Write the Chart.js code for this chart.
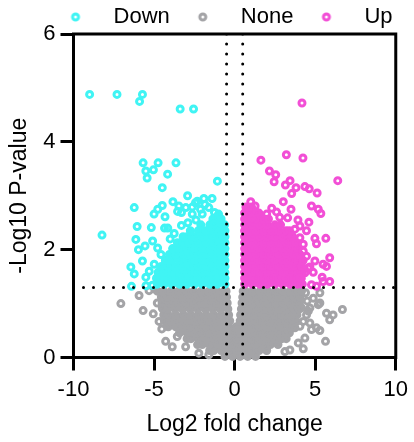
<!DOCTYPE html>
<html>
<head>
<meta charset="utf-8">
<script src="https://cdn.jsdelivr.net/npm/chart.js@4.4.1/dist/chart.umd.min.js"></script>
<style>
  html, body { margin: 0; padding: 0; background: #fff; }
</style>
</head>
<body>
<canvas id="volcano" width="414" height="442"></canvas>
<script>
const seriesNames = ['Down', 'None', 'Up'];
const seriesColors = ['#40F4F4', '#A4A4A7', '#F24FD6'];
const xTicks = [-10, -5, 0, 5, 10];
const yTicks = [0, 2, 4, 6];
const pCut = 1.3;
const fcCut = [-0.5, 0.5];

// dense parts of each cloud, one band per row: [y, [x, x, ...]]
const downCore = [
  [1.36, [-4.8, -4.36, -3.89, -3.42, -2.95, -2.48, -2.01, -1.54, -1.07, -0.6]],
  [1.47, [-4.85, -4.6, -4.13, -3.66, -3.19, -2.72, -2.25, -1.78, -1.31, -0.84, -0.6]],
  [1.58, [-4.75, -4.36, -3.89, -3.42, -2.95, -2.48, -2.01, -1.54, -1.07, -0.6]],
  [1.69, [-4.55, -4.13, -3.66, -3.19, -2.72, -2.25, -1.78, -1.31, -0.84, -0.6]],
  [1.8, [-4.3, -3.89, -3.42, -2.95, -2.48, -2.01, -1.54, -1.07, -0.6]],
  [1.91, [-4.05, -3.66, -3.19, -2.72, -2.25, -1.78, -1.31, -0.84, -0.6]],
  [2.02, [-3.85, -3.42, -2.95, -2.48, -2.01, -1.54, -1.07, -0.6]],
  [2.13, [-3.55, -3.19, -2.72, -2.25, -1.78, -1.31, -0.84, -0.6]],
  [2.24, [-3.2, -2.95, -2.48, -2.01, -1.54, -1.07, -0.6]],
  [2.35, [-2.75, -2.25, -1.78, -1.31, -0.84, -0.6]],
  [2.46, [-2.1, -1.54, -1.07, -0.62]],
  [2.57, [-1.35, -0.84]],
  [2.66, [-1.0]]
];
const noneCore = [
  [0.02, [-0.6, -0.13, 0.34, 0.81, 1.3]],
  [0.13, [-1.55, -1.3, -0.83, -0.36, 0.11, 0.58, 1.05, 1.52, 1.99]],
  [0.24, [-2.3, -2.01, -1.54, -1.07, -0.6, -0.13, 0.34, 0.81, 1.28, 1.75, 2.22, 2.69]],
  [0.35, [-2.95, -2.71, -2.24, -1.77, -1.3, -0.83, -0.36, 0.11, 0.58, 1.05, 1.52, 1.99, 2.46, 2.93, 3.2]],
  [0.46, [-3.42, -2.95, -2.48, -2.01, -1.54, -1.07, -0.6, -0.13, 0.34, 0.81, 1.28, 1.75, 2.22, 2.69, 3.16, 3.4]],
  [0.57, [-4.12, -3.65, -3.18, -2.71, -2.24, -1.77, -1.3, -0.83, -0.36, 0.11, 0.58, 1.05, 1.52, 1.99, 2.46, 2.93, 3.4, 3.62]],
  [0.68, [-4.36, -3.89, -3.42, -2.95, -2.48, -2.01, -1.54, -1.07, -0.6, -0.3, 0.34, 0.81, 1.28, 1.75, 2.22, 2.69, 3.16, 3.63, 3.8]],
  [0.79, [-4.4, -4.12, -3.65, -3.18, -2.71, -2.24, -1.77, -1.3, -0.83, -0.37, 0.37, 0.58, 1.05, 1.52, 1.99, 2.46, 2.93, 3.4, 3.87]],
  [0.9, [-4.45, -4.17, -3.7, -3.23, -2.76, -2.29, -1.82, -1.35, -0.88, -0.42, 0.42, 0.88, 1.35, 1.82, 2.29, 2.76, 3.23, 3.7, 4.0]],
  [1.01, [-4.5, -4.41, -3.94, -3.47, -3.0, -2.53, -2.06, -1.59, -1.12, -0.66, -0.46, 0.46, 0.66, 1.12, 1.59, 2.06, 2.53, 3.0, 3.47, 3.94, 4.02]],
  [1.12, [-4.55, -4.17, -3.7, -3.23, -2.76, -2.29, -1.82, -1.35, -0.88, -0.5, 0.5, 0.88, 1.35, 1.82, 2.29, 2.76, 3.23, 3.7, 4.05]],
  [1.23, [-4.8, -4.41, -3.94, -3.47, -3.0, -2.53, -2.06, -1.59, -1.12, -0.66, -0.53, 0.53, 0.66, 1.12, 1.59, 2.06, 2.53, 3.0, 3.47, 3.94, 4.15]]
];
const upCore = [
  [1.36, [0.62, 1.09, 1.56, 2.03, 2.5, 2.97, 3.44, 3.91, 4.2]],
  [1.47, [0.62, 0.85, 1.32, 1.79, 2.26, 2.73, 3.2, 3.67, 4.14]],
  [1.58, [0.62, 1.09, 1.56, 2.03, 2.5, 2.97, 3.44, 3.91, 4.2]],
  [1.69, [0.62, 0.85, 1.32, 1.79, 2.26, 2.73, 3.2, 3.67, 4.14]],
  [1.8, [0.62, 1.09, 1.56, 2.03, 2.5, 2.97, 3.44, 3.91, 4.25]],
  [1.91, [0.62, 0.85, 1.32, 1.79, 2.26, 2.73, 3.2, 3.67, 4.05]],
  [2.02, [0.62, 1.09, 1.56, 2.03, 2.5, 2.97, 3.44, 3.9]],
  [2.13, [0.62, 0.85, 1.32, 1.79, 2.26, 2.73, 3.2, 3.67, 3.8]],
  [2.24, [0.62, 1.09, 1.56, 2.03, 2.5, 2.97, 3.44, 3.6]],
  [2.35, [0.62, 0.85, 1.32, 1.79, 2.26, 2.73, 3.2, 3.4]],
  [2.46, [0.62, 1.09, 1.56, 2.03, 2.5, 2.85]],
  [2.57, [0.62, 0.85, 1.32, 1.79, 2.1]],
  [2.68, [0.62, 1.09, 1.5]],
  [2.79, [0.7, 1.05]]
];

// scattered genes: [log2 fold change, -log10 p]
const downSpread = [
  [-9.0, 4.88], [-7.3, 4.88], [-5.72, 4.88], [-5.9, 4.75], [-3.38, 4.61], [-2.55, 4.61],
  [-5.68, 3.61], [-4.75, 3.61], [-3.64, 3.61], [-5.51, 3.46], [-5.04, 3.48], [-4.16, 3.4],
  [-5.43, 3.33], [-1.07, 3.27], [-4.49, 3.15], [-2.92, 3.0], [-2.32, 2.9], [-1.91, 2.95],
  [-1.4, 2.95], [-1.85, 2.84], [-2.43, 2.87], [-2.63, 2.79], [-2.12, 2.75], [-1.6, 2.78],
  [-1.25, 2.69], [-1.19, 2.59], [-2.01, 2.66], [-2.63, 2.66], [-3.03, 2.78], [-3.3, 2.69],
  [-1.3, 2.47], [-3.83, 2.89], [-3.46, 2.81], [-3.54, 2.71], [-6.23, 2.78], [-5.0, 2.66],
  [-4.77, 2.75], [-4.49, 2.82], [-4.32, 2.61], [-0.88, 2.5], [-6.05, 2.43], [-5.17, 2.41],
  [-4.35, 2.4], [-4.15, 2.4], [-8.23, 2.27], [-6.13, 2.19], [-5.97, 2.0], [-5.56, 2.07],
  [-5.72, 1.79], [-6.44, 1.68], [-6.23, 1.55], [-5.51, 1.49], [-6.4, 1.32], [-5.5, 1.33],
  [-5.1, 1.34], [-5.09, 2.16], [-4.78, 2.03], [-4.57, 1.91], [-5.3, 1.6], [-4.99, 1.73],
  [-3.75, 2.3], [-3.3, 2.45], [-2.9, 2.5], [-4.0, 2.2], [-2.4, 2.55]
];
const noneSpread = [
  [-7.06, 1.0], [-5.93, 1.15], [-5.31, 1.24], [-5.68, 0.87], [-5.05, 0.81], [-4.8, 1.01],
  [-4.52, 0.53], [-3.56, 0.39], [-4.69, 0.67], [-4.49, 0.92], [-4.28, 0.3], [-3.87, 0.2],
  [-3.04, 0.2], [-2.22, 0.08], [-1.6, 0.05],
  [5.29, 1.2], [5.29, 1.01], [5.7, 0.82], [5.9, 0.7], [6.11, 0.79], [6.69, 0.89],
  [5.64, 0.3], [5.08, 0.55], [5.29, 0.5], [4.77, 0.52], [4.26, 0.16], [4.67, 0.92],
  [4.57, 0.86], [4.15, 0.92], [4.46, 0.79], [4.26, 0.67], [4.67, 0.64], [4.05, 0.58],
  [3.74, 0.55], [4.36, 0.36], [3.95, 0.27], [3.12, 0.11], [3.43, 0.14], [4.88, 1.1],
  [5.19, 0.98], [4.4, 1.2], [4.5, 1.05]
];
const upSpread = [
  [4.18, 4.72], [3.21, 3.76], [4.24, 3.7], [1.63, 3.66], [2.16, 3.46], [2.55, 3.39],
  [2.45, 3.26], [6.4, 3.28], [3.15, 3.2], [3.44, 3.28], [3.81, 3.15], [3.54, 3.04],
  [4.36, 3.17], [4.63, 3.13], [5.12, 3.05], [3.02, 2.89], [4.77, 2.81], [5.19, 2.75],
  [5.35, 2.67], [2.3, 2.77], [1.99, 2.66], [3.5, 2.75], [3.29, 2.59], [3.93, 2.55],
  [4.61, 2.51], [1.0, 2.89], [1.27, 2.81], [0.86, 2.78], [1.38, 2.69], [1.07, 2.59],
  [4.46, 2.35], [4.05, 2.44], [3.74, 2.38], [3.54, 2.25], [4.05, 2.22], [4.26, 2.1],
  [4.98, 2.21], [5.66, 2.21], [5.08, 2.11], [4.26, 1.97], [4.46, 1.88], [5.9, 1.85],
  [5.49, 1.73], [5.7, 1.69], [4.88, 1.58], [5.43, 1.49], [4.98, 1.79], [4.67, 1.68],
  [4.15, 1.69], [4.36, 1.57], [4.57, 1.66], [4.05, 1.48], [4.77, 1.35], [5.08, 1.32],
  [5.49, 1.41], [5.9, 1.41], [2.8, 2.6], [2.6, 2.7]
];

const fromRows = rows => rows.flatMap(([y, xs]) => xs.map(x => ({ x, y })));
const fromPairs = pairs => pairs.map(([x, y]) => ({ x, y }));

// hollow ring used for the legend markers
function ring(color) {
  const c = document.createElement('canvas');
  c.width = 12; c.height = 12;
  const g = c.getContext('2d');
  g.strokeStyle = color; g.lineWidth = 3;
  g.beginPath(); g.arc(6, 6, 3, 0, Math.PI * 2); g.stroke();
  return c;
}

function cloud(i, core, spread, order) {
  const nCore = fromRows(core).length;
  return {
    label: seriesNames[i],
    data: fromRows(core).concat(fromPairs(spread)),
    borderColor: seriesColors[i],
    backgroundColor: ctx => (ctx.dataIndex < nCore ? seriesColors[i] : 'rgba(0,0,0,0)'),
    pointRadius: 3,
    pointHoverRadius: 3,
    borderWidth: 3,
    order,
    clip: false
  };
}

function cutLine(points) {
  return {
    type: 'line',
    data: points,
    borderColor: '#000',
    borderWidth: 3,
    borderDash: [0, 10],
    borderCapStyle: 'round',
    pointRadius: 0,
    fill: false,
    order: 0
  };
}

const yTop = yTicks[yTicks.length - 1];

const legendGap = {
  id: 'legendGap',
  beforeLayout(chart) {
    const lg = chart.legend;
    if (lg && !lg._gapDone) {
      const fit = lg.fit;
      lg.fit = function () { fit.call(this); this.height = 34; };
      lg._gapDone = true;
    }
  }
};

const frame = {
  id: 'frame',
  afterDraw(chart) {
    const { ctx, chartArea: a } = chart;
    ctx.save();
    ctx.strokeStyle = '#000';
    ctx.lineWidth = 3;
    ctx.beginPath();
    ctx.moveTo(a.left - 1.5, a.top);
    ctx.lineTo(a.right, a.top);
    ctx.lineTo(a.right, a.bottom + 1.5);
    ctx.stroke();
    ctx.restore();
  }
};

Chart.defaults.font.family = "'Liberation Sans', Arial, sans-serif";
Chart.defaults.color = '#000';

const axisGrid = { display: true, drawOnChartArea: false, drawTicks: true, tickLength: 13, tickWidth: 3, tickColor: '#000', color: '#000', lineWidth: 3 };
const axisBorder = { display: true, color: '#000', width: 3 };

new Chart(document.getElementById('volcano'), {
  type: 'scatter',
  data: {
    datasets: [
      cloud(0, downCore, downSpread, 1),
      cloud(1, noneCore, noneSpread, 2),
      cloud(2, upCore, upSpread, 1),
      cutLine([{ x: xTicks[0], y: pCut }, { x: xTicks[xTicks.length - 1], y: pCut }]),
      cutLine([{ x: fcCut[0], y: yTop }, { x: fcCut[0], y: 0 }]),
      cutLine([{ x: fcCut[1], y: yTop }, { x: fcCut[1], y: 0 }])
    ]
  },
  options: {
    responsive: false,
    devicePixelRatio: 1,
    animation: false,
    events: [],
    layout: { padding: { left: 0, right: 15.5, top: 0, bottom: 0 } },
    plugins: {
      tooltip: { enabled: false },
      legend: {
        position: 'top',
        align: 'end',
        labels: {
          usePointStyle: true,
          pointStyleWidth: 54,
          padding: 6,
          color: '#000',
          font: { size: 22 },
          generateLabels(chart) {
            return Chart.defaults.plugins.legend.labels.generateLabels(chart)
              .filter(it => it.datasetIndex < 3)
              .sort((a, b) => a.datasetIndex - b.datasetIndex)
              .map(it => Object.assign(it, { pointStyle: ring(seriesColors[it.datasetIndex]) }));
          }
        }
      }
    },
    scales: {
      x: {
        type: 'linear',
        min: xTicks[0],
        max: xTicks[xTicks.length - 1],
        afterBuildTicks: s => { s.ticks = xTicks.map(v => ({ value: v })); },
        afterFit: s => { s.height = 84.5; },
        ticks: { color: '#000', font: { size: 22 }, padding: 6, maxRotation: 0 },
        grid: axisGrid,
        border: axisBorder,
        title: { display: true, text: 'Log2 fold change', color: '#000', font: { size: 23 }, padding: { top: 7, bottom: 4 } }
      },
      y: {
        type: 'linear',
        min: yTicks[0],
        max: yTop,
        afterBuildTicks: s => { s.ticks = yTicks.map(v => ({ value: v })); },
        afterFit: s => { s.width = 73.5; },
        ticks: { color: '#000', font: { size: 22 }, padding: 5 },
        grid: axisGrid,
        border: axisBorder,
        title: { display: true, text: '-Log10 P-value', color: '#000', font: { size: 23 }, padding: { top: 6, bottom: 9 } }
      }
    }
  },
  plugins: [legendGap, frame]
});
</script>
</body>
</html>
